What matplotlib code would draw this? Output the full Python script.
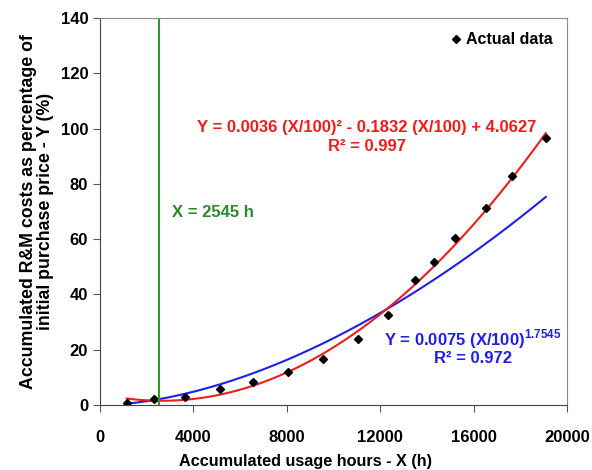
import numpy as np
import matplotlib.pyplot as plt

stunden = [1143, 2326, 3640, 5139, 6567, 8066, 9566, 11063, 12349, 13490, 14318, 15204, 16518, 17659, 19088]
kosten = [0.6, 2.1, 3.0, 5.7, 8.4, 12.0, 16.6, 23.9, 32.6, 45.2, 51.6, 60.5, 71.2, 82.9, 96.5]
grenze = 2545

# Potenz-Trendlinie laut Beschriftung
pot_a = 0.0075
pot_b = 1.7545

plt.rcParams['font.family'] = ['Liberation Sans', 'DejaVu Sans']
plt.rcParams['font.weight'] = 'bold'
plt.rcParams['mathtext.fontset'] = 'custom'
plt.rcParams['mathtext.rm'] = 'Liberation Sans:bold'
plt.rcParams['mathtext.bf'] = 'Liberation Sans:bold'

x = np.array(stunden)
y = np.array(kosten)
xx = np.linspace(x.min(), x.max(), 300)

# Quadratische Trendlinie aus den Daten
quad = np.polyfit(x / 100, y, 2)
y_quad = np.polyval(quad, xx / 100)
y_pot = pot_a * (xx / 100) ** pot_b

fig = plt.figure(figsize=(5.92, 4.70), dpi=100)
ax = fig.add_axes([0.169, 0.138, 0.789, 0.824])

ax.plot(xx, y_pot, color="#1f1fe6", linewidth=1.5)
ax.plot(xx, y_quad, color="#f01c1c", linewidth=1.5)
ax.plot(stunden, kosten, "D", color="black", markersize=4.5, label="Actual data")
ax.axvline(grenze, color="#2e9a2e", linewidth=1.5)

ax.text(3100, 69.5, "X = 2545 h", color="#2a8a2a", fontsize=12, fontweight="bold", va="center")
ax.text(11420, 97, "Y = 0.0036 (X/100)² - 0.1832 (X/100) + 4.0627\nR² = 0.997",
        color="#f01c1c", fontsize=12, fontweight="bold", ha="center", va="center", linespacing=1.3)
ax.text(15950, 21, "Y = 0.0075 (X/100)$^{\\mathbf{1.7545}}$\nR² = 0.972",
        color="#1f1fe6", fontsize=12, fontweight="bold", ha="center", va="center", linespacing=1.0)

ax.set_xlim(0, 20000)
ax.set_ylim(0, 140)
ax.set_xticks(np.arange(0, 20001, 4000))
ax.set_yticks(np.arange(0, 141, 20))
ax.tick_params(direction="out", labelsize=12, length=5, color="#555555")
ax.tick_params(axis="x", pad=13)
for lbl in ax.get_xticklabels() + ax.get_yticklabels():
    lbl.set_fontweight("bold")

ax.set_xlabel("Accumulated usage hours - X (h)", fontsize=11.7, fontweight="bold")
ax.xaxis.set_label_coords(0.44, -0.125)
ax.set_ylabel("Accumulated R&M costs as percentage of\ninitial purchase price - Y (%)",
              fontsize=12.8, fontweight="bold", labelpad=5, linespacing=1.0)

for s in ["top", "right"]:
    ax.spines[s].set_color("#888888")
for s in ["left", "bottom"]:
    ax.spines[s].set_color("#444444")

ax.legend(loc="upper right", frameon=False, handletextpad=0.1,
          handlelength=1.0, prop={"weight": "bold", "size": 11.5})

fig.savefig("out.png", dpi=100)
